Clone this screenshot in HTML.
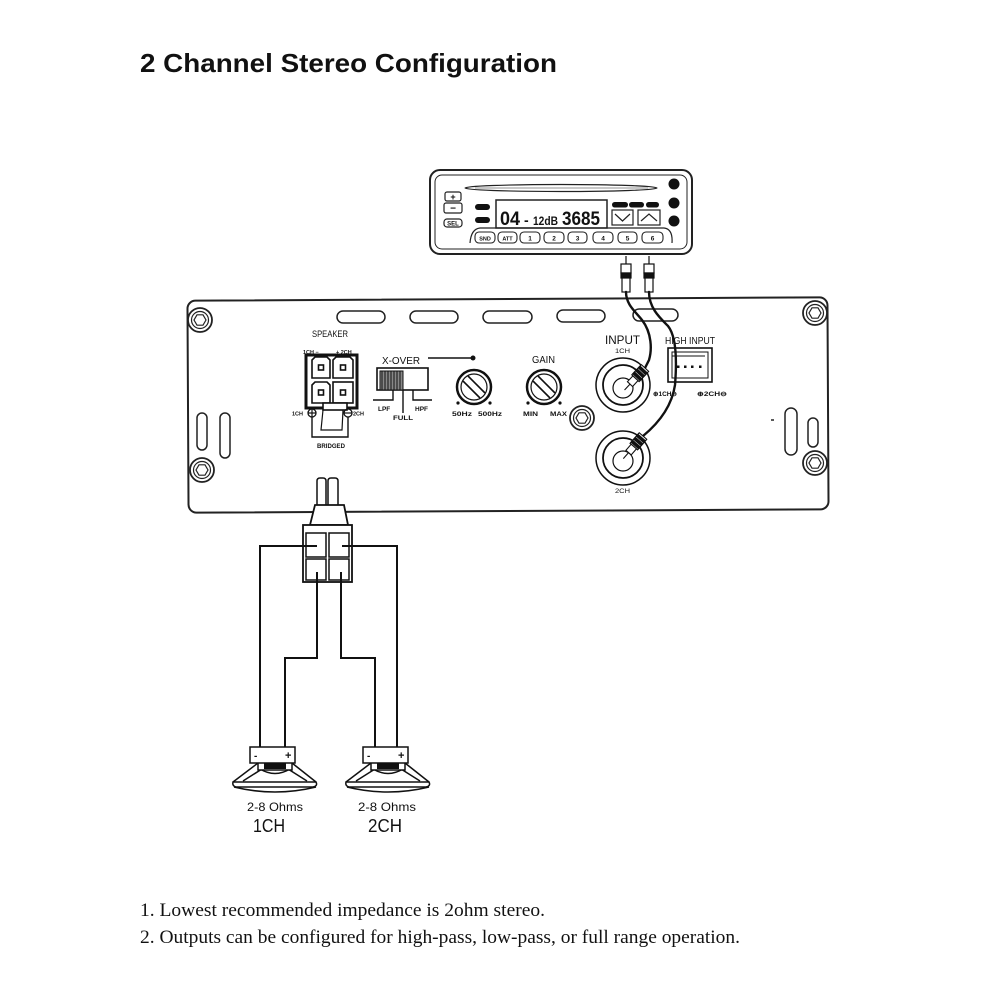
<!DOCTYPE html>
<html><head><meta charset="utf-8"><style>
html,body{margin:0;padding:0;background:#fff;}
svg{display:block;}
text{font-family:"Liberation Sans",sans-serif;fill:#111;}
.serif{font-family:"Liberation Serif",serif;}
</style></head><body>
<svg width="1000" height="1000" viewBox="0 0 1000 1000" xmlns="http://www.w3.org/2000/svg">
<rect width="1000" height="1000" fill="#fff"/>

<!-- Title -->
<text x="140" y="72" font-size="26" font-weight="bold" textLength="417" lengthAdjust="spacingAndGlyphs">2 Channel Stereo Configuration</text>

<!-- ================= HEAD UNIT ================= -->
<g fill="none" stroke="#222">
  <rect x="430" y="170" width="262" height="84" rx="10" stroke-width="2"/>
  <rect x="435" y="175" width="252" height="74" rx="7" stroke-width="1"/>
  <ellipse cx="561" cy="188" rx="96" ry="3.5" stroke-width="1.2"/>
  <line x1="475" y1="188" x2="648" y2="188" stroke-width="0.6"/>
  <rect x="445" y="192" width="16" height="9" rx="2" stroke-width="1.2"/>
  <rect x="444" y="203" width="18" height="10" rx="2" stroke-width="1.2"/>
  <rect x="444" y="219" width="18" height="8" rx="3" stroke-width="1.2"/>
  <rect x="496" y="200" width="111" height="28" stroke-width="1.5"/>
  <rect x="612" y="210" width="21" height="15" stroke-width="1.2"/>
  <rect x="638" y="210" width="22" height="15" stroke-width="1.2"/>
  <polyline points="615,214 622.5,221 630,214" stroke-width="1.2"/>
  <polyline points="641,221 649,214 657,221" stroke-width="1.2"/>
  <path d="M470,243 Q471,229 480,228 L664,228 Q673,229 672,243" stroke-width="1.2"/>
</g>
<text x="453" y="200" font-size="9" text-anchor="middle" font-weight="bold">+</text>
<text x="453" y="211.5" font-size="10" text-anchor="middle" font-weight="bold">−</text>
<text x="453" y="225.5" font-size="6" text-anchor="middle" font-weight="bold">SEL</text>
<g fill="#111">
  <rect x="475" y="204" width="15" height="6" rx="3"/>
  <rect x="475" y="217" width="15" height="6" rx="3"/>
  <rect x="612" y="202" width="16" height="5.5" rx="2.7"/>
  <rect x="629" y="202" width="15" height="5.5" rx="2.7"/>
  <rect x="646" y="202" width="13" height="5.5" rx="2.7"/>
  <circle cx="674" cy="184" r="5.5"/>
  <circle cx="674" cy="203" r="5.5"/>
  <circle cx="674" cy="221" r="5.5"/>
</g>
<text x="500" y="225" font-size="19" font-weight="bold" textLength="20" lengthAdjust="spacingAndGlyphs">04</text>
<text x="524" y="225" font-size="14" font-weight="bold">-</text>
<text x="533" y="225" font-size="12" font-weight="bold" textLength="25" lengthAdjust="spacingAndGlyphs">12dB</text>
<text x="562" y="225" font-size="19" font-weight="bold" textLength="38" lengthAdjust="spacingAndGlyphs">3685</text>
<!-- bottom buttons -->
<g fill="none" stroke="#222" stroke-width="1.1">
  <rect x="475" y="232" width="20" height="11" rx="4"/>
  <rect x="498" y="232" width="19" height="11" rx="4"/>
  <rect x="520" y="232" width="20" height="11" rx="4"/>
  <rect x="544" y="232" width="20" height="11" rx="4"/>
  <rect x="568" y="232" width="19" height="11" rx="4"/>
  <rect x="593" y="232" width="20" height="11" rx="4"/>
  <rect x="618" y="232" width="19" height="11" rx="4"/>
  <rect x="642" y="232" width="21" height="11" rx="4"/>
</g>
<g font-size="6.5" font-weight="bold" text-anchor="middle">
  <text x="485" y="240.5" font-size="5.5">SND</text>
  <text x="507.5" y="240.5" font-size="5.5">ATT</text>
  <text x="530" y="240.5">1</text>
  <text x="554" y="240.5">2</text>
  <text x="577.5" y="240.5">3</text>
  <text x="603" y="240.5">4</text>
  <text x="627.5" y="240.5">5</text>
  <text x="652.5" y="240.5">6</text>
</g>

<!-- RCA plugs at head unit -->
<g stroke="#111" stroke-width="1.2" fill="#fff">
  <line x1="626" y1="256" x2="626" y2="264"/>
  <rect x="621" y="264" width="10" height="9"/>
  <rect x="621" y="273" width="10" height="5" fill="#111"/>
  <rect x="622" y="278" width="8" height="14"/>
  <line x1="649" y1="256" x2="649" y2="264"/>
  <rect x="644" y="264" width="10" height="9"/>
  <rect x="644" y="273" width="10" height="5" fill="#111"/>
  <rect x="645" y="278" width="8" height="14"/>
</g>

<!-- ================= AMPLIFIER ================= -->
<rect x="188" y="299" width="640" height="212" rx="8" fill="none" stroke="#222" stroke-width="2" transform="rotate(-0.3 508 405)"/>

<!-- screws -->
<g fill="none" stroke="#222">
  <g transform="translate(200,320)"><circle r="12" stroke-width="1.8"/><circle r="8.5" stroke-width="1.2"/><polygon points="6,0 3,5.2 -3,5.2 -6,0 -3,-5.2 3,-5.2" stroke-width="1.2"/></g>
  <g transform="translate(202,470)"><circle r="12" stroke-width="1.8"/><circle r="8.5" stroke-width="1.2"/><polygon points="6,0 3,5.2 -3,5.2 -6,0 -3,-5.2 3,-5.2" stroke-width="1.2"/></g>
  <g transform="translate(815,313)"><circle r="12" stroke-width="1.8"/><circle r="8.5" stroke-width="1.2"/><polygon points="6,0 3,5.2 -3,5.2 -6,0 -3,-5.2 3,-5.2" stroke-width="1.2"/></g>
  <g transform="translate(815,463)"><circle r="12" stroke-width="1.8"/><circle r="8.5" stroke-width="1.2"/><polygon points="6,0 3,5.2 -3,5.2 -6,0 -3,-5.2 3,-5.2" stroke-width="1.2"/></g>
  <g transform="translate(582,418)"><circle r="12" stroke-width="1.8"/><circle r="8.5" stroke-width="1.2"/><polygon points="6,0 3,5.2 -3,5.2 -6,0 -3,-5.2 3,-5.2" stroke-width="1.2"/></g>
</g>

<!-- slots -->
<g fill="none" stroke="#222" stroke-width="1.5">
  <rect x="337" y="311" width="48" height="12" rx="6"/>
  <rect x="410" y="311" width="48" height="12" rx="6"/>
  <rect x="483" y="311" width="49" height="12" rx="6"/>
  <rect x="557" y="310" width="48" height="12" rx="6"/>
  <rect x="633" y="309" width="45" height="12" rx="6"/>
  <rect x="197" y="413" width="10" height="37" rx="5"/>
  <rect x="220" y="413" width="10" height="45" rx="5"/>
  <rect x="785" y="408" width="12" height="47" rx="6"/>
  <rect x="808" y="418" width="10" height="29" rx="5"/>
</g>
<line x1="771" y1="420" x2="774" y2="420" stroke="#222" stroke-width="1.5"/>

<!-- SPEAKER connector -->
<text x="330" y="337" font-size="9" text-anchor="middle" textLength="36" lengthAdjust="spacingAndGlyphs">SPEAKER</text>
<text x="303" y="354" font-size="5.5" font-weight="bold">1CH −</text>
<text x="336" y="354" font-size="5.5" font-weight="bold">+ 2CH</text>
<rect x="306" y="355" width="51" height="53" fill="none" stroke="#111" stroke-width="3"/>
<g fill="none" stroke="#111" stroke-width="1.6">
  <path d="M312,378 L312,360 L315,357 L327,357 L330,360 L330,378 Z"/>
  <path d="M333,378 L333,360 L336,357 L350,357 L353,360 L353,378 Z"/>
  <path d="M312,403 L312,385 L315,382 L327,382 L330,385 L330,403 Z"/>
  <rect x="333" y="382" width="20" height="21"/>
  <rect x="318.5" y="365" width="5" height="5"/>
  <rect x="340.5" y="365" width="5" height="5"/>
  <rect x="318.5" y="390" width="5" height="5"/>
  <rect x="340.5" y="390" width="5" height="5"/>
  <rect x="323" y="403" width="24" height="7" fill="#fff"/>
  <path d="M312,417 L312,437 L348,437 L348,417" stroke-width="1.4"/>
  <path d="M323,410 L321,430 L342,430 L343,410" stroke-width="1.2"/>
  <circle cx="312" cy="413" r="4" stroke-width="1.3"/>
  <circle cx="348" cy="413" r="4" stroke-width="1.3"/>
</g>
<line x1="308.5" y1="413" x2="315.5" y2="413" stroke="#111" stroke-width="1.2"/>
<line x1="312" y1="409.5" x2="312" y2="416.5" stroke="#111" stroke-width="1.2"/>
<line x1="344.5" y1="413" x2="351.5" y2="413" stroke="#111" stroke-width="1.2"/>
<text x="292" y="415.5" font-size="5.5" font-weight="bold">1CH</text>
<text x="353" y="415.5" font-size="5.5" font-weight="bold">2CH</text>
<text x="331" y="448" font-size="6" font-weight="bold" text-anchor="middle" textLength="28" lengthAdjust="spacingAndGlyphs">BRIDGED</text>

<!-- X-OVER -->
<text x="382" y="364" font-size="10" textLength="38" lengthAdjust="spacingAndGlyphs">X-OVER</text>
<line x1="428" y1="358" x2="473" y2="358" stroke="#111" stroke-width="1.5"/>
<circle cx="473" cy="358" r="2.5" fill="#111"/>
<rect x="377" y="368" width="51" height="22" fill="none" stroke="#111" stroke-width="1.6"/>
<rect x="380" y="371" width="23" height="19" fill="#888" stroke="#111" stroke-width="1"/>
<g stroke="#111" stroke-width="1">
  <line x1="382" y1="371" x2="382" y2="390"/><line x1="385" y1="371" x2="385" y2="390"/>
  <line x1="388" y1="371" x2="388" y2="390"/><line x1="391" y1="371" x2="391" y2="390"/>
  <line x1="394" y1="371" x2="394" y2="390"/><line x1="397" y1="371" x2="397" y2="390"/>
  <line x1="400" y1="371" x2="400" y2="390"/>
</g>
<g fill="none" stroke="#111" stroke-width="1.4">
  <polyline points="373,400 393,400 393,390"/>
  <line x1="403" y1="390" x2="403" y2="413"/>
  <polyline points="413,390 413,400 432,400"/>
</g>
<text x="378" y="411" font-size="6.5" font-weight="bold">LPF</text>
<text x="393" y="420" font-size="6.5" font-weight="bold" textLength="20" lengthAdjust="spacingAndGlyphs">FULL</text>
<text x="415" y="411" font-size="6.5" font-weight="bold">HPF</text>

<!-- knobs -->
<g fill="none" stroke="#111">
  <g transform="translate(474,387)">
    <circle r="17" stroke-width="2.5"/><circle r="13" stroke-width="1.2"/>
    <line x1="-11" y1="-6" x2="6" y2="11" stroke-width="1.6"/>
    <line x1="-6" y1="-11" x2="11" y2="6" stroke-width="1.6"/>
  </g>
  <g transform="translate(544,387)">
    <circle r="17" stroke-width="2.5"/><circle r="13" stroke-width="1.2"/>
    <line x1="-11" y1="-6" x2="6" y2="11" stroke-width="1.6"/>
    <line x1="-6" y1="-11" x2="11" y2="6" stroke-width="1.6"/>
  </g>
</g>
<g fill="#111">
  <circle cx="458" cy="403" r="1.6"/><circle cx="490" cy="403" r="1.6"/>
  <circle cx="528" cy="403" r="1.6"/><circle cx="560" cy="403" r="1.6"/>
</g>
<text x="452" y="416" font-size="6.5" font-weight="bold" textLength="20" lengthAdjust="spacingAndGlyphs">50Hz</text>
<text x="478" y="416" font-size="6.5" font-weight="bold" textLength="24" lengthAdjust="spacingAndGlyphs">500Hz</text>
<text x="532" y="363" font-size="10" textLength="23" lengthAdjust="spacingAndGlyphs">GAIN</text>
<text x="523" y="416" font-size="6.5" font-weight="bold" textLength="15" lengthAdjust="spacingAndGlyphs">MIN</text>
<text x="550" y="416" font-size="6.5" font-weight="bold" textLength="17" lengthAdjust="spacingAndGlyphs">MAX</text>

<!-- INPUT jacks -->
<text x="605" y="344" font-size="12" textLength="35" lengthAdjust="spacingAndGlyphs">INPUT</text>
<text x="615" y="353" font-size="6.5" textLength="15" lengthAdjust="spacingAndGlyphs">1CH</text>
<text x="615" y="493" font-size="6.5" textLength="15" lengthAdjust="spacingAndGlyphs">2CH</text>
<g fill="none" stroke="#111">
  <circle cx="623" cy="385" r="27" stroke-width="1.5"/>
  <circle cx="623" cy="385" r="20" stroke-width="1.8"/>
  <circle cx="623" cy="388" r="10" stroke-width="1.2"/>
  <circle cx="623" cy="458" r="27" stroke-width="1.5"/>
  <circle cx="623" cy="458" r="20" stroke-width="1.8"/>
  <circle cx="623" cy="461" r="10" stroke-width="1.2"/>
</g>

<!-- HIGH INPUT -->
<text x="665" y="344" font-size="10" textLength="50" lengthAdjust="spacingAndGlyphs">HIGH INPUT</text>
<rect x="668" y="348" width="44" height="34" fill="none" stroke="#111" stroke-width="1.6"/>
<rect x="672" y="352" width="36" height="26" fill="none" stroke="#111" stroke-width="1"/>
<line x1="672" y1="356" x2="705" y2="356" stroke="#111" stroke-width="1"/>
<g fill="#111">
  <rect x="677" y="365.5" width="2.5" height="2.5"/><rect x="684" y="365.5" width="2.5" height="2.5"/>
  <rect x="691" y="365.5" width="2.5" height="2.5"/><rect x="699" y="365.5" width="2.5" height="2.5"/>
</g>
<text x="653" y="396" font-size="6.5" font-weight="bold" textLength="24" lengthAdjust="spacingAndGlyphs">⊕1CH⊖</text>
<text x="697" y="396" font-size="6.5" font-weight="bold" textLength="30" lengthAdjust="spacingAndGlyphs">⊕2CH⊖</text>

<!-- RCA cables -->
<g fill="none" stroke="#111" stroke-width="2.4" stroke-linecap="round">
  <path d="M626,292 C626,305 636,312 642,320 C652,333 652,350 649,360 L645,368"/>
  <path d="M649,292 C649,308 660,318 668,326 C676,336 677,360 675,385 C672,405 660,422 643,436"/>
</g>
<!-- plugs into jacks -->
<g stroke="#111" stroke-width="1.1" fill="#fff">
  <g transform="translate(645,368) rotate(43)">
    <rect x="-5" y="0" width="10" height="14"/>
    <rect x="-5" y="2" width="10" height="2.5" fill="#111"/>
    <rect x="-5" y="6" width="10" height="2.5" fill="#111"/>
    <rect x="-5" y="10" width="10" height="2.5" fill="#111"/>
    <rect x="-3.5" y="14" width="7" height="8"/>
    <line x1="0" y1="22" x2="0" y2="30"/>
  </g>
  <g transform="translate(643,436) rotate(41)">
    <rect x="-5" y="0" width="10" height="14"/>
    <rect x="-5" y="2" width="10" height="2.5" fill="#111"/>
    <rect x="-5" y="6" width="10" height="2.5" fill="#111"/>
    <rect x="-5" y="10" width="10" height="2.5" fill="#111"/>
    <rect x="-3.5" y="14" width="7" height="8"/>
    <line x1="0" y1="22" x2="0" y2="30"/>
  </g>
</g>

<!-- ================= SPEAKER HARNESS ================= -->
<g stroke="#111" stroke-width="1.5" fill="#fff">
  <path d="M317,505 L317,481 Q317,478 320,478 L323,478 Q326,478 326,481 L326,505"/>
  <path d="M328,505 L328,481 Q328,478 331,478 L335,478 Q338,478 338,481 L338,505"/>
  <path d="M315,505 L344,505 L348,525 L310,525 Z" stroke-width="1.8"/>
  <rect x="303" y="525" width="49" height="57" stroke-width="1.8"/>
  <rect x="306" y="533" width="20" height="24"/>
  <rect x="329" y="533" width="20" height="24"/>
  <rect x="306" y="559" width="20" height="21"/>
  <rect x="329" y="559" width="20" height="21"/>
</g>
<g fill="none" stroke="#111" stroke-width="2">
  <polyline points="317,546 260,546 260,747"/>
  <polyline points="342,546 397,546 397,747"/>
  <polyline points="317,572 317,658 285,658 285,747"/>
  <polyline points="341,572 341,658 375,658 375,747"/>
</g>

<!-- Speakers -->
<g id="spk1">
  <g fill="none" stroke="#111" stroke-width="1.5">
    <path d="M258,763 L233,782"/>
    <path d="M292,763 L316,782"/>
    <path d="M262,769 L243,781"/>
    <path d="M288,769 L307,781"/>
    <path d="M260,769 Q275,778 290,769"/>
    <path d="M233,782 Q232,786 236,787 L313,787 Q318,786 316,782 Z" fill="#fff"/>
    <path d="M234,787 Q275,797 316,787"/>
    <rect x="258" y="762" width="34" height="8" fill="#fff"/>
  </g>
  <rect x="264" y="762" width="22" height="7" fill="#111"/>
  <rect x="250" y="747" width="45" height="16" fill="#fff" stroke="#111" stroke-width="1.5"/>
  <text x="254" y="759" font-size="10" font-weight="bold">-</text>
  <text x="285" y="759" font-size="11" font-weight="bold">+</text>
</g>
<g transform="translate(113,0)">
  <g fill="none" stroke="#111" stroke-width="1.5">
    <path d="M258,763 L233,782"/>
    <path d="M292,763 L316,782"/>
    <path d="M262,769 L243,781"/>
    <path d="M288,769 L307,781"/>
    <path d="M260,769 Q275,778 290,769"/>
    <path d="M233,782 Q232,786 236,787 L313,787 Q318,786 316,782 Z" fill="#fff"/>
    <path d="M234,787 Q275,797 316,787"/>
    <rect x="258" y="762" width="34" height="8" fill="#fff"/>
  </g>
  <rect x="264" y="762" width="22" height="7" fill="#111"/>
  <rect x="250" y="747" width="45" height="16" fill="#fff" stroke="#111" stroke-width="1.5"/>
  <text x="254" y="759" font-size="10" font-weight="bold">-</text>
  <text x="285" y="759" font-size="11" font-weight="bold">+</text>
</g>

<text x="247" y="811" font-size="12" textLength="56" lengthAdjust="spacingAndGlyphs">2-8 Ohms</text>
<text x="253" y="832" font-size="18" textLength="32" lengthAdjust="spacingAndGlyphs">1CH</text>
<text x="358" y="811" font-size="12" textLength="58" lengthAdjust="spacingAndGlyphs">2-8 Ohms</text>
<text x="368" y="832" font-size="18" textLength="34" lengthAdjust="spacingAndGlyphs">2CH</text>

<!-- Notes -->
<text class="serif" x="140" y="916" font-size="19" textLength="405" lengthAdjust="spacingAndGlyphs">1. Lowest recommended impedance is 2ohm stereo.</text>
<text class="serif" x="140" y="943" font-size="19" textLength="600" lengthAdjust="spacingAndGlyphs">2. Outputs can be configured for high-pass, low-pass, or full range operation.</text>
</svg>
</body></html>
